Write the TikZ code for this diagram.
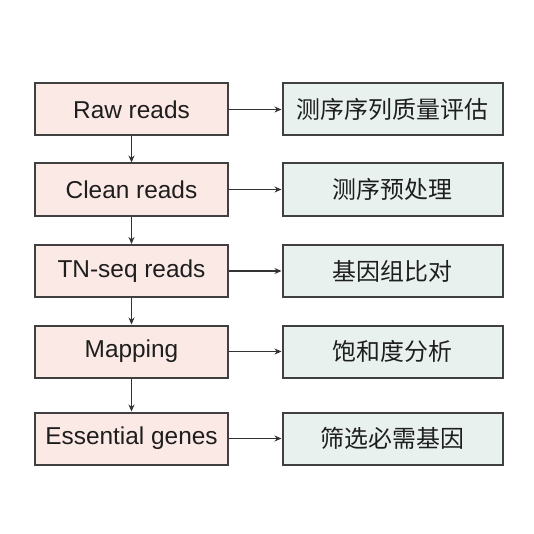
\documentclass[tikz,border=0pt]{standalone}
\usepackage{fontspec}
\setmainfont{Liberation Sans}
\newfontfamily\cjk{Noto Sans CJK SC}
\usetikzlibrary{arrows.meta}
\definecolor{stepred}{RGB}{251,233,229}
\definecolor{stepgreen}{RGB}{232,241,238}
\definecolor{edge}{RGB}{64,64,64}
\definecolor{ink}{RGB}{30,30,30}
\tikzset{
   box/.style={draw=edge,line width=2bp,text=ink,minimum height=52bp,
      font=\fontsize{24.5}{28}\selectfont},
   leftbox/.style={box,fill=stepred,minimum width=193bp},
   rightbox/.style={box,fill=stepgreen,minimum width=220bp,
      font=\fontsize{24}{28}\selectfont\cjk},
   link/.style={edge!80!black,line width=1.5bp,-{Stealth[length=7bp,width=6bp]}}
}
\begin{document}
\begin{tikzpicture}[x=1bp,y=-1bp]
   \useasboundingbox (0,0) rectangle (534,534);
   \foreach \i/\y/\a/\b in {1/109.5/Raw reads/测序序列质量评估,
                            2/189.5/Clean reads/测序预处理,
                            3/271/TN-seq reads/基因组比对,
                            4/351.5/Mapping/饱和度分析,
                            5/438.5/Essential genes/筛选必需基因} {
    \node[leftbox]  (l\i) at (131.5,\y) {\a};
    \node[rightbox] (r\i) at (392.5,\y) {\b};
    \draw[link] (l\i) -- (r\i);
   }
   \foreach \i/\j in {1/2,2/3,3/4,4/5}
    \draw[link] (l\i) -- (l\j);
  \end{tikzpicture}
\end{document}
